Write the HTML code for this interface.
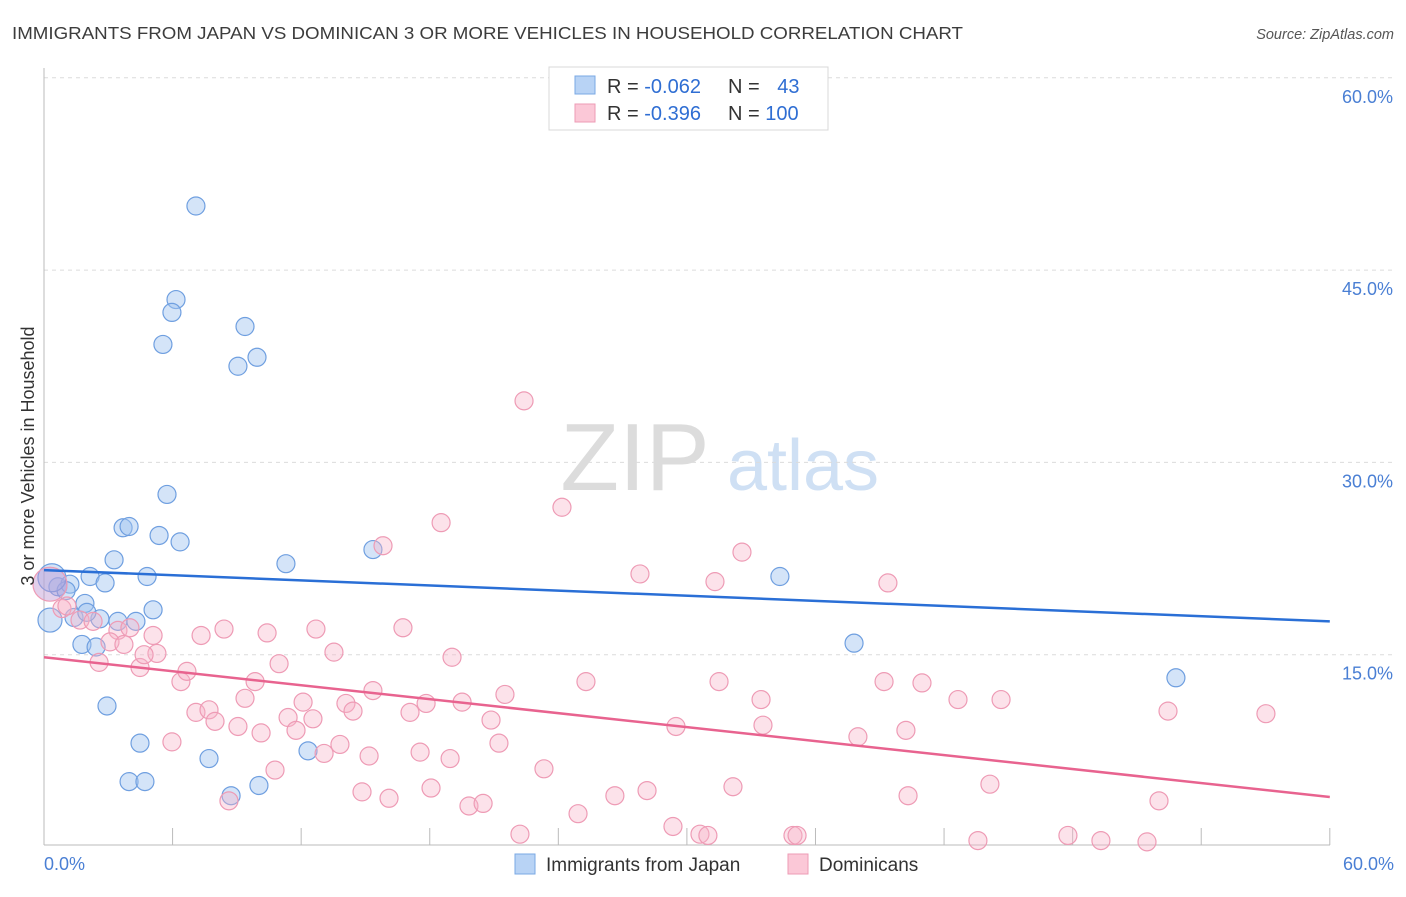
<!DOCTYPE html>
<html><head><meta charset="utf-8"><style>
body{margin:0;background:#fff;font-family:"Liberation Sans",sans-serif}
svg text{font-family:"Liberation Sans",sans-serif}
</style></head><body>
<svg width="1406" height="892" id="chart">
<text x="12" y="39" font-size="17.5" fill="#3c3c3c" textLength="951" lengthAdjust="spacingAndGlyphs">IMMIGRANTS FROM JAPAN VS DOMINICAN 3 OR MORE VEHICLES IN HOUSEHOLD CORRELATION CHART</text>
<text x="1394" y="39" font-size="14.5" fill="#555" font-style="italic" text-anchor="end">Source: ZipAtlas.com</text>
<g>
<text x="635" y="490" font-size="96" fill="#dcdcdc" font-family="Liberation Serif" text-anchor="middle">ZIP</text>
<text x="803" y="490" font-size="72" fill="#cfe0f4" text-anchor="middle">atlas</text>
</g>
<g id="grid"></g>
<g id="marks"></g>
<text transform="translate(34,456) rotate(-90)" font-size="18" fill="#333" text-anchor="middle">3 or more Vehicles in Household</text>
<g>
<rect x="549" y="67" width="279" height="63" fill="#fff" stroke="#d8d8d8"/>
<rect x="575" y="76" width="20" height="18" fill="#b8d3f5" stroke="#7aa8e4"/>
<rect x="575" y="104" width="20" height="18" fill="#fbc8d7" stroke="#ee9bb5"/>
<text x="607" y="93" font-size="20" fill="#333">R = <tspan fill="#2f6ed3">-0.062</tspan></text>
<text x="728" y="93" font-size="20" fill="#333">N = <tspan fill="#2f6ed3" dx="12">43</tspan></text>
<text x="607" y="120" font-size="20" fill="#333">R = <tspan fill="#2f6ed3">-0.396</tspan></text>
<text x="728" y="120" font-size="20" fill="#333">N = <tspan fill="#2f6ed3">100</tspan></text>
</g>
<g>
<rect x="515" y="854" width="20" height="20" fill="#b8d3f5" stroke="#7aa8e4"/>
<text x="546" y="871" font-size="19" fill="#333">Immigrants from Japan</text>
<rect x="788" y="854" width="20" height="20" fill="#fbc8d7" stroke="#ee9bb5"/>
<text x="819" y="871" font-size="19" fill="#333">Dominicans</text>
</g>
</svg>
<script>
const yTicks=[15,30,45,60];
const xTickLabels=["0.0%","60.0%"];
const japanX=[7.09,6.16,5.97,5.55,9.38,9.94,9.05,5.74,3.69,3.97,5.37,6.35,3.27,15.35,11.29,2.15,4.81,2.85,0.65,1.21,1.91,5.09,2.61,3.45,4.29,1.77,2.43,2.94,4.48,7.70,12.32,3.97,4.71,8.73,10.03,34.34,37.80,52.82,1.4,1.03,0.28,0.37,2.0];
const japanY=[50.0,42.7,41.7,39.2,40.6,38.2,37.5,27.5,24.9,25.0,24.3,23.8,22.4,23.2,22.1,21.1,21.1,20.6,20.3,20.5,19.0,18.5,17.8,17.6,17.6,15.8,15.6,11.0,8.1,6.9,7.5,5.1,5.1,4.0,4.8,21.1,15.9,13.2,17.9,20.0,17.7,21.0,18.3];
const domX=[22.40,24.17,18.53,15.82,32.57,27.81,31.31,39.38,0.84,1.07,1.68,2.29,3.45,4.01,3.08,3.73,5.09,7.33,8.40,10.41,12.69,16.75,4.48,5.27,6.39,6.67,4.67,2.57,10.97,13.53,19.04,15.35,9.38,9.85,12.09,14.09,7.09,7.70,7.98,9.05,10.13,11.39,11.76,12.55,14.42,17.08,17.83,19.51,21.51,20.86,25.29,31.50,33.46,39.20,40.97,42.65,44.66,52.45,57.02,29.49,33.55,40.22,37.98,5.97,13.07,13.81,15.17,17.55,18.95,21.23,23.33,10.78,14.84,16.10,18.06,19.83,20.49,26.64,28.14,32.15,40.32,44.14,52.03,8.63,22.21,24.92,29.35,30.61,30.98,34.95,35.14,43.58,47.78,49.32,51.47,0.28];
const domY=[34.8,26.5,25.3,23.5,23.0,21.3,20.7,20.6,18.6,18.8,17.7,17.6,16.9,17.1,16.0,15.8,16.5,16.5,17.0,16.7,17.0,17.1,14.0,15.1,12.9,13.7,15.0,14.4,14.3,15.2,14.8,12.2,11.6,12.9,11.3,11.2,10.5,10.7,9.8,9.4,8.9,10.1,9.1,10.0,10.6,10.5,11.2,11.3,11.9,9.9,12.9,12.9,11.5,12.9,12.8,11.5,11.5,10.6,10.4,9.4,9.5,9.1,8.6,8.2,7.3,8.0,7.1,7.4,6.9,8.1,6.1,6.0,4.3,3.8,4.6,3.2,3.4,4.0,4.4,4.7,4.0,4.9,3.6,3.6,1.0,2.6,1.6,1.0,0.9,0.9,0.9,0.5,0.9,0.5,0.4,20.5];
const japanTrend=[21.6,17.6];
const domTrend=[14.8,3.9];
const NS="http://www.w3.org/2000/svg";
const X=v=>44+v*21.43, Y=v=>847-v*12.82;
function mk(t,a,p){const e=document.createElementNS(NS,t);for(const k in a)e.setAttribute(k,a[k]);p.appendChild(e);return e;}
const grid=document.getElementById('grid'), marks=document.getElementById('marks');
yTicks.forEach(t=>{
 const l=mk('line',{x1:44,x2:1394,y1:Y(t),y2:Y(t),stroke:'#dcdcdc','stroke-dasharray':'4,4'},grid);
 
 
 const tx=mk('text',{x:1393,y:Y(t)+25,'font-size':18,fill:'#4a7fd4','text-anchor':'end'},grid);
 tx.textContent=t.toFixed(1)+'%';
 
 
});
const ax=mk('line',{x1:44,x2:44,y1:68,y2:845,stroke:'#bbb'},grid);


const bx=mk('line',{x1:44,x2:1330,y1:845,y2:845,stroke:'#bbb'},grid);


for(let i=1;i<=10;i++){const t=mk('line',{x1:X(i*6),x2:X(i*6),y1:828,y2:845,stroke:'#bbb'},grid);
 
 }
[[0,'start',44],[60,'end',1394]].forEach((d,i)=>{const t=mk('text',{x:d[2],y:870,'font-size':18,fill:'#4a7fd4','text-anchor':d[1]},grid);t.textContent=xTickLabels[i];
 
 });
japanX.forEach((x,i)=>{let r=9;
 if(i===japanX.length-3) r=12;
 if(i===japanX.length-2) r=14;
 const c=mk('circle',{cx:X(x),cy:Y(japanY[i]),r:r,fill:'rgba(160,196,240,0.45)',stroke:'#6f9fe0','stroke-width':1.2},marks);
 
 });
domX.forEach((x,i)=>{const big=i===domX.length-1;
 const c=mk('circle',{cx:X(x),cy:Y(domY[i]),r:big?17:9,fill:big?'rgba(190,150,210,0.45)':'rgba(248,180,200,0.38)',stroke:'#ee9bb5','stroke-width':1.2},marks);
 
 });
const l1=mk('line',{x1:X(0),y1:Y(japanTrend[0]),x2:X(60),y2:Y(japanTrend[1]),stroke:'#2a6fd6','stroke-width':2.5},marks);


const l2=mk('line',{x1:X(0),y1:Y(domTrend[0]),x2:X(60),y2:Y(domTrend[1]),stroke:'#e8638f','stroke-width':2.5},marks);


</script>
</body></html>
